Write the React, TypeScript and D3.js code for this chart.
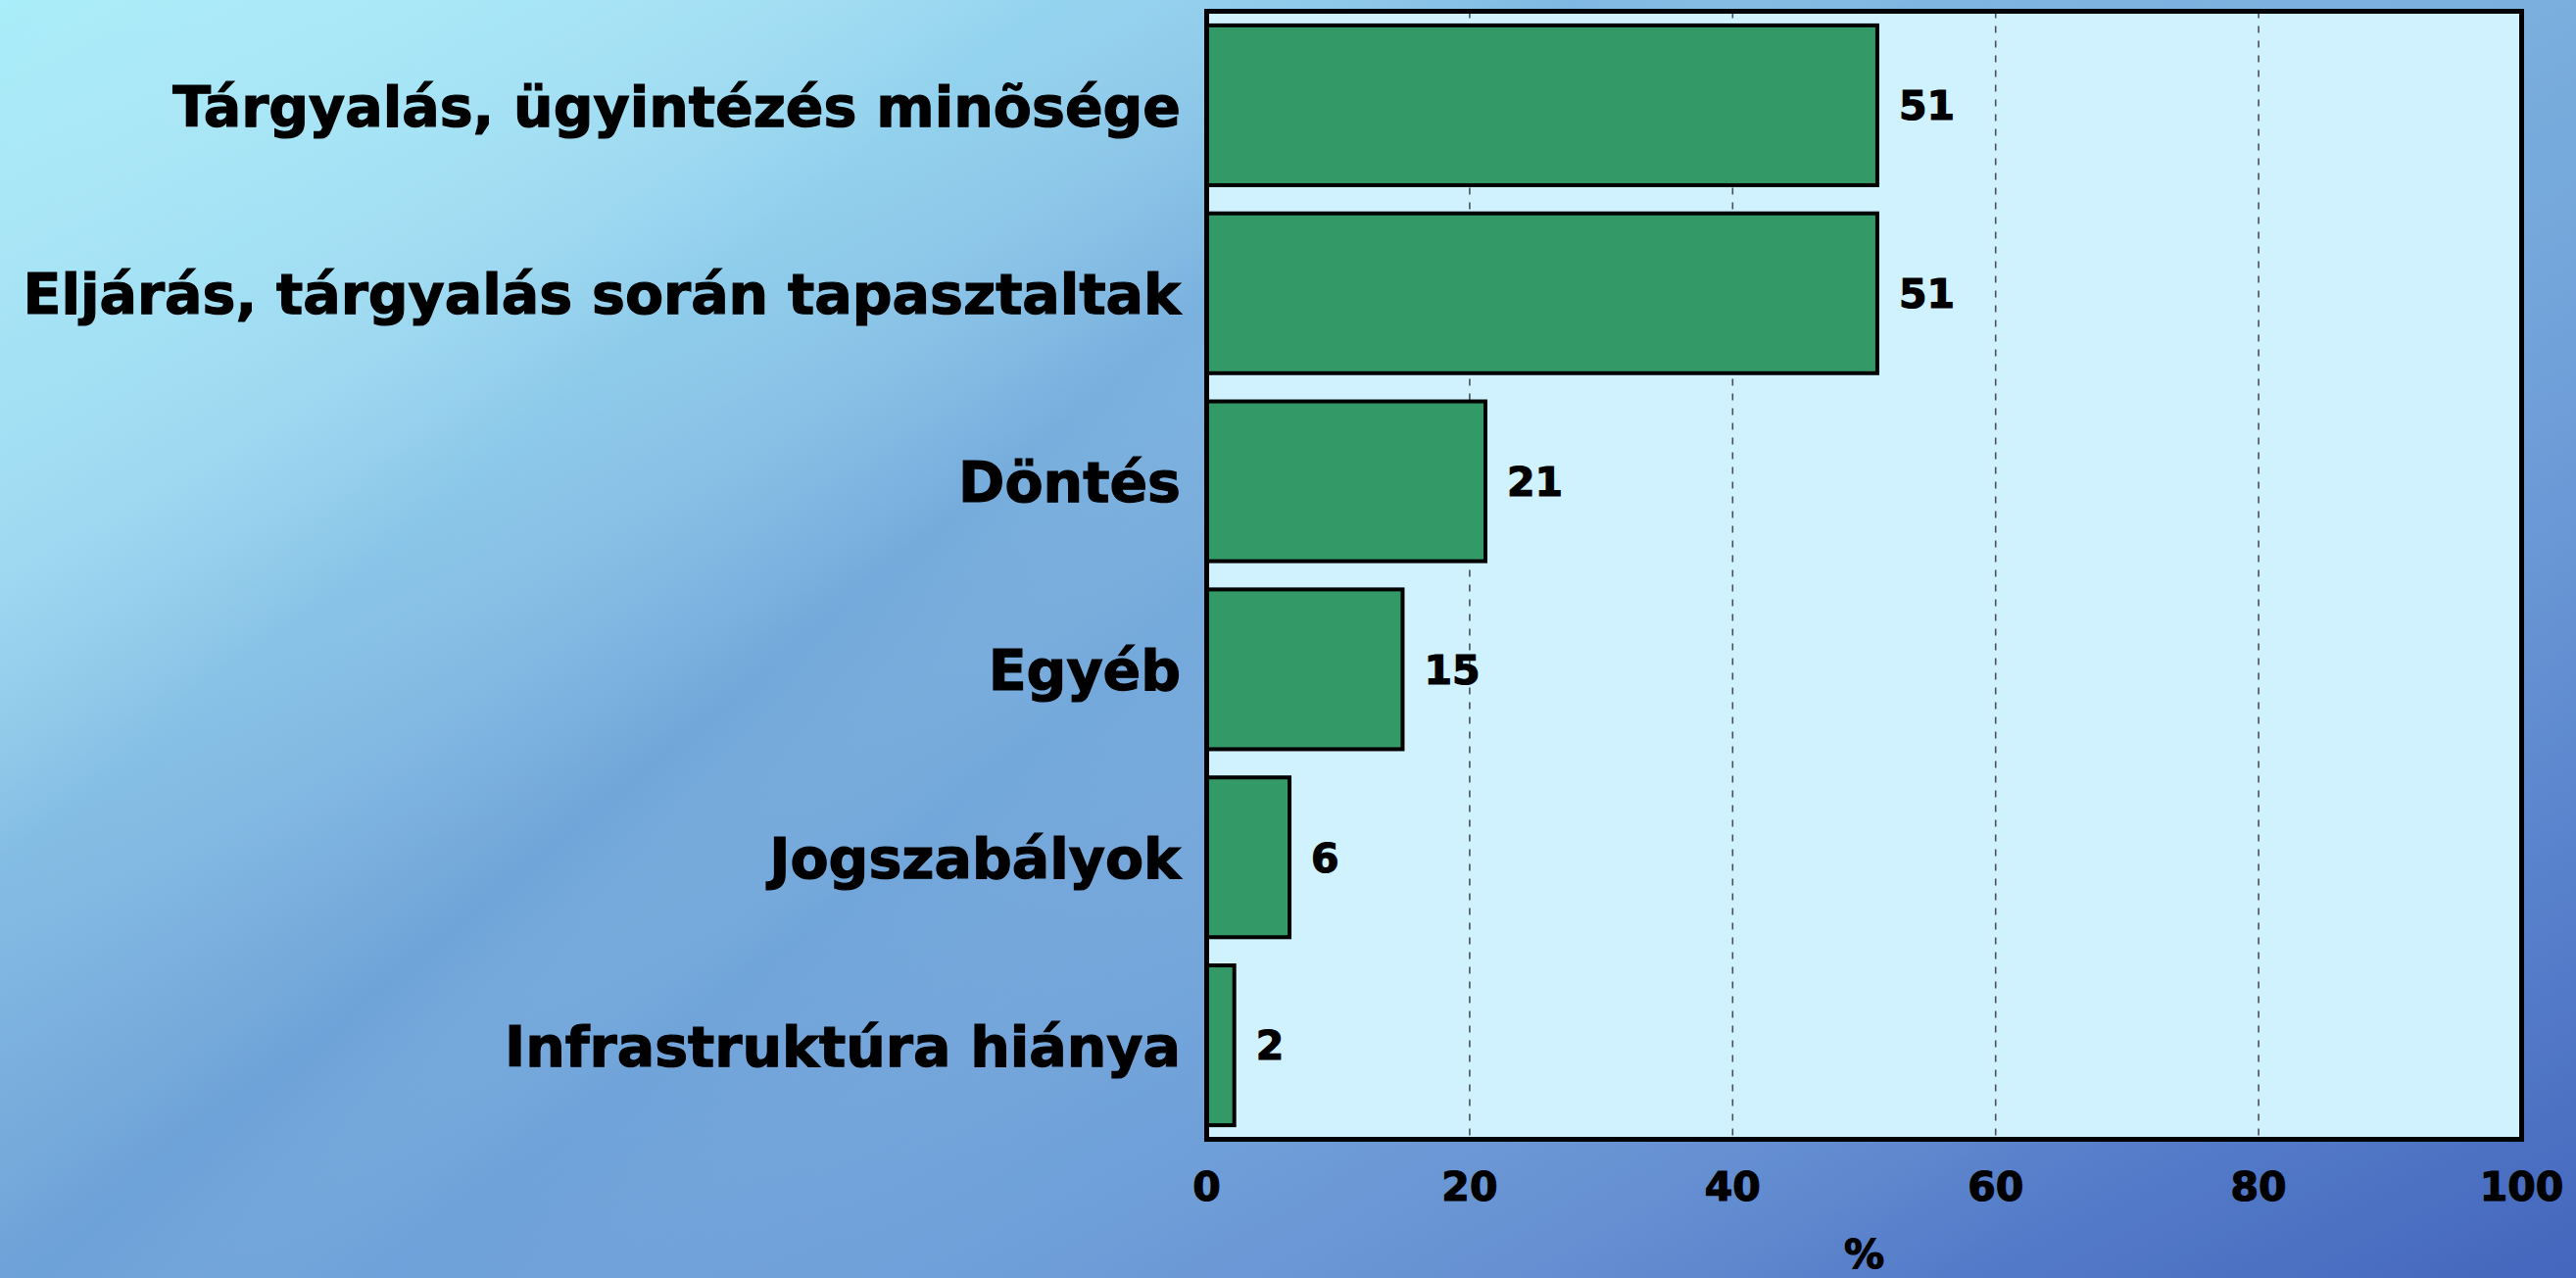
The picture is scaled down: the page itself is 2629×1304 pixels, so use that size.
import React from "react";
import * as d3 from "d3";

const categories = [
  "Tárgyalás, ügyintézés minõsége",
  "Eljárás, tárgyalás során tapasztaltak",
  "Döntés",
  "Egyéb",
  "Jogszabályok",
  "Infrastruktúra hiánya",
];
const values = [51, 51, 21.2, 14.9, 6.3, 2.1];
const xTicks = [0, 20, 40, 60, 80, 100];
const gridTicks = [20, 40, 60, 80];
const axisTitle = "%";

const W = 2629;
const H = 1304;
const plot = { left: 1231.5, right: 2573.5, top: 11.5, bottom: 1162.5 };
const FONT = "'DejaVu Sans', Verdana, sans-serif";

export default function App() {
  const x = d3.scaleLinear().domain([0, 100]).range([plot.left, plot.right]);
  const y = d3
    .scaleBand<string>()
    .domain(categories)
    .range([plot.top, plot.bottom])
    .paddingInner(0.15)
    .paddingOuter(0.075);
  const fmt = d3.format(".0f");

  const boldText = {
    fontFamily: FONT,
    fontWeight: "bold" as const,
    fill: "#000",
    stroke: "#000",
    strokeWidth: 1.2,
  };

  return (
    <svg
      width={W}
      height={H}
      viewBox={`0 0 ${W} ${H}`}
      style={{ position: "absolute", left: 0, top: 0, display: "block" }}
    >
      <defs>
        <linearGradient id="bg" x1="0" y1="0" x2="1" y2="1">
          <stop offset="0" stopColor="#a9eef9" />
          <stop offset="0.22" stopColor="#93d2ee" />
          <stop offset="0.42" stopColor="#78aedd" />
          <stop offset="0.6" stopColor="#6c9fd8" />
          <stop offset="0.8" stopColor="#5d88cf" />
          <stop offset="1" stopColor="#4466bd" />
        </linearGradient>
        <linearGradient id="streak" x1="0" y1="0" x2="1" y2="0.6">
          <stop offset="0" stopColor="#ffffff" stopOpacity="0" />
          <stop offset="0.15" stopColor="#bff4ff" stopOpacity="0.25" />
          <stop offset="0.3" stopColor="#ffffff" stopOpacity="0" />
          <stop offset="0.45" stopColor="#3f6fc0" stopOpacity="0.12" />
          <stop offset="0.55" stopColor="#ffffff" stopOpacity="0" />
          <stop offset="0.7" stopColor="#a0d8f0" stopOpacity="0.15" />
          <stop offset="1" stopColor="#ffffff" stopOpacity="0" />
        </linearGradient>
      </defs>
      <rect x={0} y={0} width={W} height={H} fill="url(#bg)" />
      <rect x={0} y={0} width={W} height={H} fill="url(#streak)" />

      {/* plot background */}
      <rect
        x={plot.left}
        y={plot.top}
        width={plot.right - plot.left}
        height={plot.bottom - plot.top}
        fill="#d0f2fe"
      />

      {/* grid */}
      {gridTicks.map((t) => (
        <line
          key={t}
          x1={x(t)}
          x2={x(t)}
          y1={plot.top}
          y2={plot.bottom}
          stroke="#4a4f58"
          strokeWidth={1.6}
          strokeDasharray="7,8"
        />
      ))}

      {/* bars */}
      {categories.map((c, i) => (
        <rect
          key={c}
          x={x(0)}
          y={y(c)}
          width={x(values[i]) - x(0)}
          height={y.bandwidth()}
          fill="#339966"
          stroke="#000"
          strokeWidth={4}
        />
      ))}

      {/* value labels */}
      {categories.map((c, i) => (
        <text
          key={c}
          x={x(values[i]) + 22}
          y={(y(c) as number) + y.bandwidth() / 2}
          dy="0.36em"
          fontSize={41}
          {...boldText}
        >
          {fmt(values[i])}
        </text>
      ))}

      {/* category labels */}
      {categories.map((c) => (
        <text
          key={c}
          x={1205}
          y={(y(c) as number) + y.bandwidth() / 2}
          dy="0.37em"
          textAnchor="end"
          fontSize={57}
          {...boldText}
        >
          {c}
        </text>
      ))}

      {/* frame */}
      <rect
        x={plot.left}
        y={plot.top}
        width={plot.right - plot.left}
        height={plot.bottom - plot.top}
        fill="none"
        stroke="#000"
        strokeWidth={5}
      />

      {/* x tick labels */}
      {xTicks.map((t) => (
        <text
          key={t}
          x={x(t)}
          y={1225}
          textAnchor="middle"
          fontSize={41}
          {...boldText}
        >
          {t}
        </text>
      ))}

      <text
        x={(plot.left + plot.right) / 2}
        y={1294}
        textAnchor="middle"
        fontSize={41}
        {...boldText}
      >
        {axisTitle}
      </text>
    </svg>
  );
}
